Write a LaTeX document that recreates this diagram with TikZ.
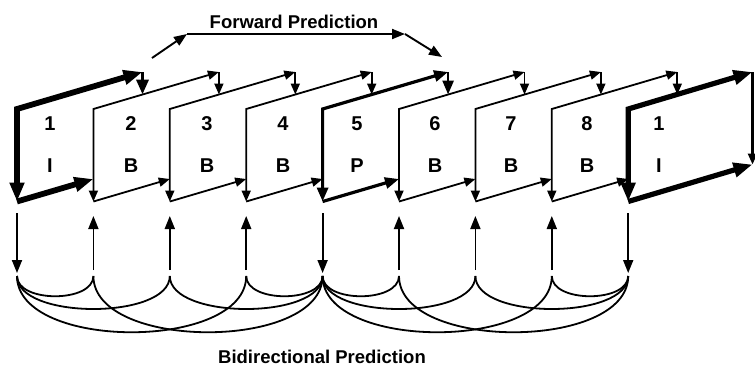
\documentclass[tikz,border=0pt]{standalone}
\usepackage{fontspec}
\setmainfont{Liberation Sans}
\usetikzlibrary{arrows.meta}
\begin{document}
\begin{tikzpicture}[x=1pt,y=-1pt,
  line join=miter,
  lab/.style={font=\fontsize{20}{24}\selectfont\bfseries, inner sep=0pt},
  ttl/.style={font=\fontsize{18.5}{22}\selectfont\bfseries, inner sep=0pt, anchor=base},
  thinl/.style={line width=1.8pt},
  tipS/.tip={Triangle[length=11pt,width=9pt]},
  tipP/.tip={Triangle[length=14pt,width=11pt]},
  tipI/.tip={Triangle[length=19pt,width=14pt]},
  tipR/.tip={Triangle[length=15pt,width=12pt]},
  tipV/.tip={Triangle[length=13pt,width=10pt]},
  curvel/.style={line width=1.8pt},
  fwd/.style={line width=1.9pt,-{Triangle[length=13pt,width=10pt]}}
]
\useasboundingbox (0,0) rectangle (755,368);
% frame geometry
\foreach \i in {1,...,9}{
  \pgfmathsetmacro\xx{17+76.4*(\i-1)}
  \coordinate (tl\i) at (\xx,109);
  \coordinate (bl\i) at (\xx,201.5);
  \coordinate (tr\i) at (\xx+125.5,72);
  \coordinate (br\i) at (\xx+125.5,164.5);
  \coordinate (be\i) at (\xx+76.4,179);
  \coordinate (re\i) at (\xx+125.5,94.5);
  \coordinate (va\i) at (\xx,213);
  \coordinate (vb\i) at (\xx,273);
  \coordinate (vt\i) at (\xx,270);
  \coordinate (vu\i) at (\xx,216);
  \coordinate (cu\i) at (\xx,276);
}
% B frames
\foreach \i in {2,3,4,6,7,8}{
  \draw[thinl, tipS-tipS] (tr\i) -- (tl\i) -- (bl\i);
  \draw[thinl, -tipS] (bl\i) -- (be\i);
  \draw[thinl, -tipS] (tr\i) -- (re\i);
}
% P frame
\draw[line width=3.2pt, tipP-tipP] (tr5) -- (tl5) -- (bl5);
\draw[line width=3.2pt, -tipP] (bl5) -- (be5);
\draw[line width=2.6pt, -tipP] (tr5) -- (re5);
% I frame (first)
\draw[line width=5.8pt, tipI-tipI] (tr1) -- (tl1) -- (bl1);
\draw[line width=5.8pt, -tipI] (bl1) -- (be1);
\draw[line width=3.5pt, -tipR] (tr1) -- (re1);
% I frame (last)
\coordinate (tr9b) at (752.5,72);
\coordinate (br9b) at (752.5,164.5);
\draw[line width=5.2pt, tipI-tipI] (tr9b) -- (tl9) -- (bl9);
\draw[line width=5.2pt, -tipI] (bl9) -- (br9b);
\draw[line width=2.4pt, -tipS] (tr9b) -- (br9b);
% labels
\node[lab] (n1) at (50,124) {1};   \node[lab] (t1) at (50,166) {I};
\node[lab] (n2) at (131,124) {2};  \node[lab] (t2) at (131,166) {B};
\node[lab] (n3) at (207,124) {3};  \node[lab] (t3) at (207,166) {B};
\node[lab] (n4) at (283,124) {4};  \node[lab] (t4) at (283,166) {B};
\node[lab] (n5) at (357,124) {5};  \node[lab] (t5) at (357,166) {P};
\node[lab] (n6) at (435,124) {6};  \node[lab] (t6) at (435,166) {B};
\node[lab] (n7) at (511,124) {7};  \node[lab] (t7) at (511,166) {B};
\node[lab] (n8) at (587,124) {8};  \node[lab] (t8) at (587,166) {B};
\node[lab] (n9) at (659,124) {1};  \node[lab] (t9) at (659,166) {I};
% forward prediction
\node[ttl] (fwdt) at (294,28) {Forward Prediction};
\coordinate (fp1) at (152,58);
\coordinate (fp2) at (187,34);
\coordinate (fp3) at (405,34);
\coordinate (fp4) at (442,57);
\draw[fwd] (fp1) -- (fp2);
\draw[fwd] (fp2) -- (fp3);
\draw[fwd] (fp3) -- (fp4);
% bidirectional vertical arrows
\foreach \i in {1,5,9}{
  \draw[line width=1.8pt, -tipV] (va\i) -- (vb\i);
}
\foreach \i in {2,3,4,6,7,8}{
  \draw[line width=1.8pt, -tipV] (vt\i) -- (vu\i);
}
% curves
\foreach \b/\l/\r/\cl/\cr in {2/1/5/27/75, 3/1/5/44/44, 4/1/5/75/27, 6/5/9/27/75, 7/5/9/44/44, 8/5/9/75/27}{
  \draw[curvel] (cu\b) .. controls +(0,\cl) and +(0,\cl) .. (cu\l);
  \draw[curvel] (cu\b) .. controls +(0,\cr) and +(0,\cr) .. (cu\r);
}
\node[ttl] (bidt) at (322,363) {Bidirectional Prediction};
\end{tikzpicture}
\end{document}
